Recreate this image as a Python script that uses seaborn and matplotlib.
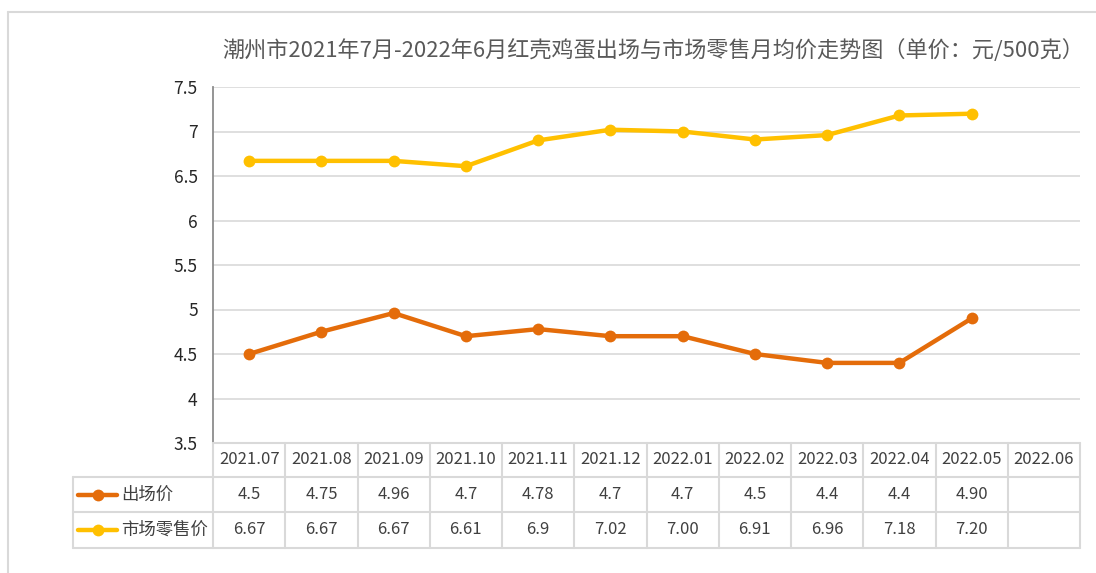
import numpy as np
import pandas as pd
import matplotlib
matplotlib.use("Agg")
import matplotlib.pyplot as plt
import matplotlib.transforms as mtransforms
from matplotlib.lines import Line2D
import seaborn as sns

months = ["2021.07", "2021.08", "2021.09", "2021.10", "2021.11", "2021.12",
          "2022.01", "2022.02", "2022.03", "2022.04", "2022.05", "2022.06"]
farm_price = [4.5, 4.75, 4.96, 4.7, 4.78, 4.7, 4.7, 4.5, 4.4, 4.4, 4.90, np.nan]
retail_price = [6.67, 6.67, 6.67, 6.61, 6.9, 7.02, 7.00, 6.91, 6.96, 7.18, 7.20, np.nan]
farm_labels = ["4.5", "4.75", "4.96", "4.7", "4.78", "4.7", "4.7", "4.5", "4.4", "4.4", "4.90", ""]
retail_labels = ["6.67", "6.67", "6.67", "6.61", "6.9", "7.02", "7.00", "6.91", "6.96", "7.18", "7.20", ""]
series_names = ["出场价", "市场零售价"]
yticks = [3.5, 4, 4.5, 5, 5.5, 6, 6.5, 7, 7.5]
ytick_labels = ["3.5", "4", "4.5", "5", "5.5", "6", "6.5", "7", "7.5"]
title = "潮州市2021年7月-2022年6月红壳鸡蛋出场与市场零售月均价走势图（单价：元/500克）"

colors = ["#E46C0A", "#FFC000"]

sns.set_style("white")
plt.rcParams['font.family'] = ['Noto Sans CJK SC', 'DejaVu Sans']

W, H = 1096, 573
fig = plt.figure(figsize=(W / 100, H / 100), dpi=100)
fig.patch.set_facecolor("white")

def fx(px):
    return px / W

def fy(py):
    return 1 - py / H

ax_left, ax_right, ax_top, ax_bottom = 213, 1080, 87, 443
ax = fig.add_axes([fx(ax_left), fy(ax_bottom), fx(ax_right) - fx(ax_left), fy(ax_top) - fy(ax_bottom)])

x = np.arange(len(months))
df = pd.DataFrame({"x": np.concatenate([x, x]),
                   "price": np.concatenate([farm_price, retail_price]),
                   "series": [series_names[0]] * len(months) + [series_names[1]] * len(months)})

for name, col in zip(series_names, colors):
    sub = df[df["series"] == name].dropna()
    sns.lineplot(data=sub, x="x", y="price", ax=ax, color=col, lw=3.2,
                 marker="o", markersize=8.5, markeredgewidth=0, legend=False)

ax.set_xlim(-0.5, len(months) - 0.5)
ax.set_ylim(3.5, 7.5)
ax.set_yticks(yticks)
ax.set_yticklabels(ytick_labels, fontsize=12.5, color="#262626")
ax.set_xticks([])
ax.set_xlabel("")
ax.set_ylabel("")
ax.grid(axis="y", color="#D9D9D9", lw=1.2)
ax.set_axisbelow(True)
for s in ["top", "right", "bottom"]:
    ax.spines[s].set_visible(False)
ax.spines["left"].set_color("#8C8C8C")
ax.spines["left"].set_linewidth(1.3)
ax.tick_params(axis="y", direction="out", length=5, width=1.2, color="#8C8C8C", pad=6)

# Data table below the axes
tr = mtransforms.blended_transform_factory(ax.transData, fig.transFigure)
grid_col = "#D9D9D9"
row_edges = [443, 477, 512, 548]
tbl_left_px = 73
n = len(months)

# horizontal lines
for i, ry in enumerate(row_edges):
    if i == 0:
        fig.add_artist(Line2D([-0.5, n - 0.5], [fy(ry)] * 2, transform=tr, color=grid_col, lw=1.5))
    else:
        fig.add_artist(Line2D([fx(tbl_left_px), fx(ax_right)], [fy(ry)] * 2,
                              transform=fig.transFigure, color=grid_col, lw=1.5))
# vertical lines
for k in range(n + 1):
    fig.add_artist(Line2D([k - 0.5, k - 0.5], [fy(row_edges[0]), fy(row_edges[-1])],
                          transform=tr, color=grid_col, lw=1.5))
fig.add_artist(Line2D([fx(tbl_left_px)] * 2, [fy(row_edges[1]), fy(row_edges[-1])],
                      transform=fig.transFigure, color=grid_col, lw=1.5))

def mid(a, b):
    return fy((a + b) / 2)

for k, m in enumerate(months):
    fig.text(k, mid(row_edges[0], row_edges[1]), m, transform=tr, ha="center", va="center",
             fontsize=12, color="#404040")
    fig.text(k, mid(row_edges[1], row_edges[2]), farm_labels[k], transform=tr, ha="center",
             va="center", fontsize=12, color="#404040")
    fig.text(k, mid(row_edges[2], row_edges[3]), retail_labels[k], transform=tr, ha="center",
             va="center", fontsize=12, color="#404040")

for r, (name, col) in enumerate(zip(series_names, colors)):
    yc = mid(row_edges[r + 1], row_edges[r + 2])
    fig.add_artist(Line2D([fx(78), fx(117)], [yc, yc], transform=fig.transFigure,
                          color=col, lw=3.2))
    fig.add_artist(Line2D([fx(97.5)], [yc], transform=fig.transFigure, color=col,
                          marker="o", markersize=8.5, markeredgewidth=0))
    fig.text(fx(121), yc, name, ha="left", va="center", fontsize=12.5, color="#404040")

# outer chart frame
frame_col = "#D9D9D9"
fig.add_artist(Line2D([fx(8), fx(8)], [fy(12), 0], transform=fig.transFigure, color=frame_col, lw=1.5))
fig.add_artist(Line2D([fx(8), 1], [fy(12), fy(12)], transform=fig.transFigure, color=frame_col, lw=1.5))

fig.text(fx(653), fy(51), title, ha="center", va="center", fontsize=15.9, color="#595959")

fig.savefig("out.png", dpi=100, facecolor="white")
